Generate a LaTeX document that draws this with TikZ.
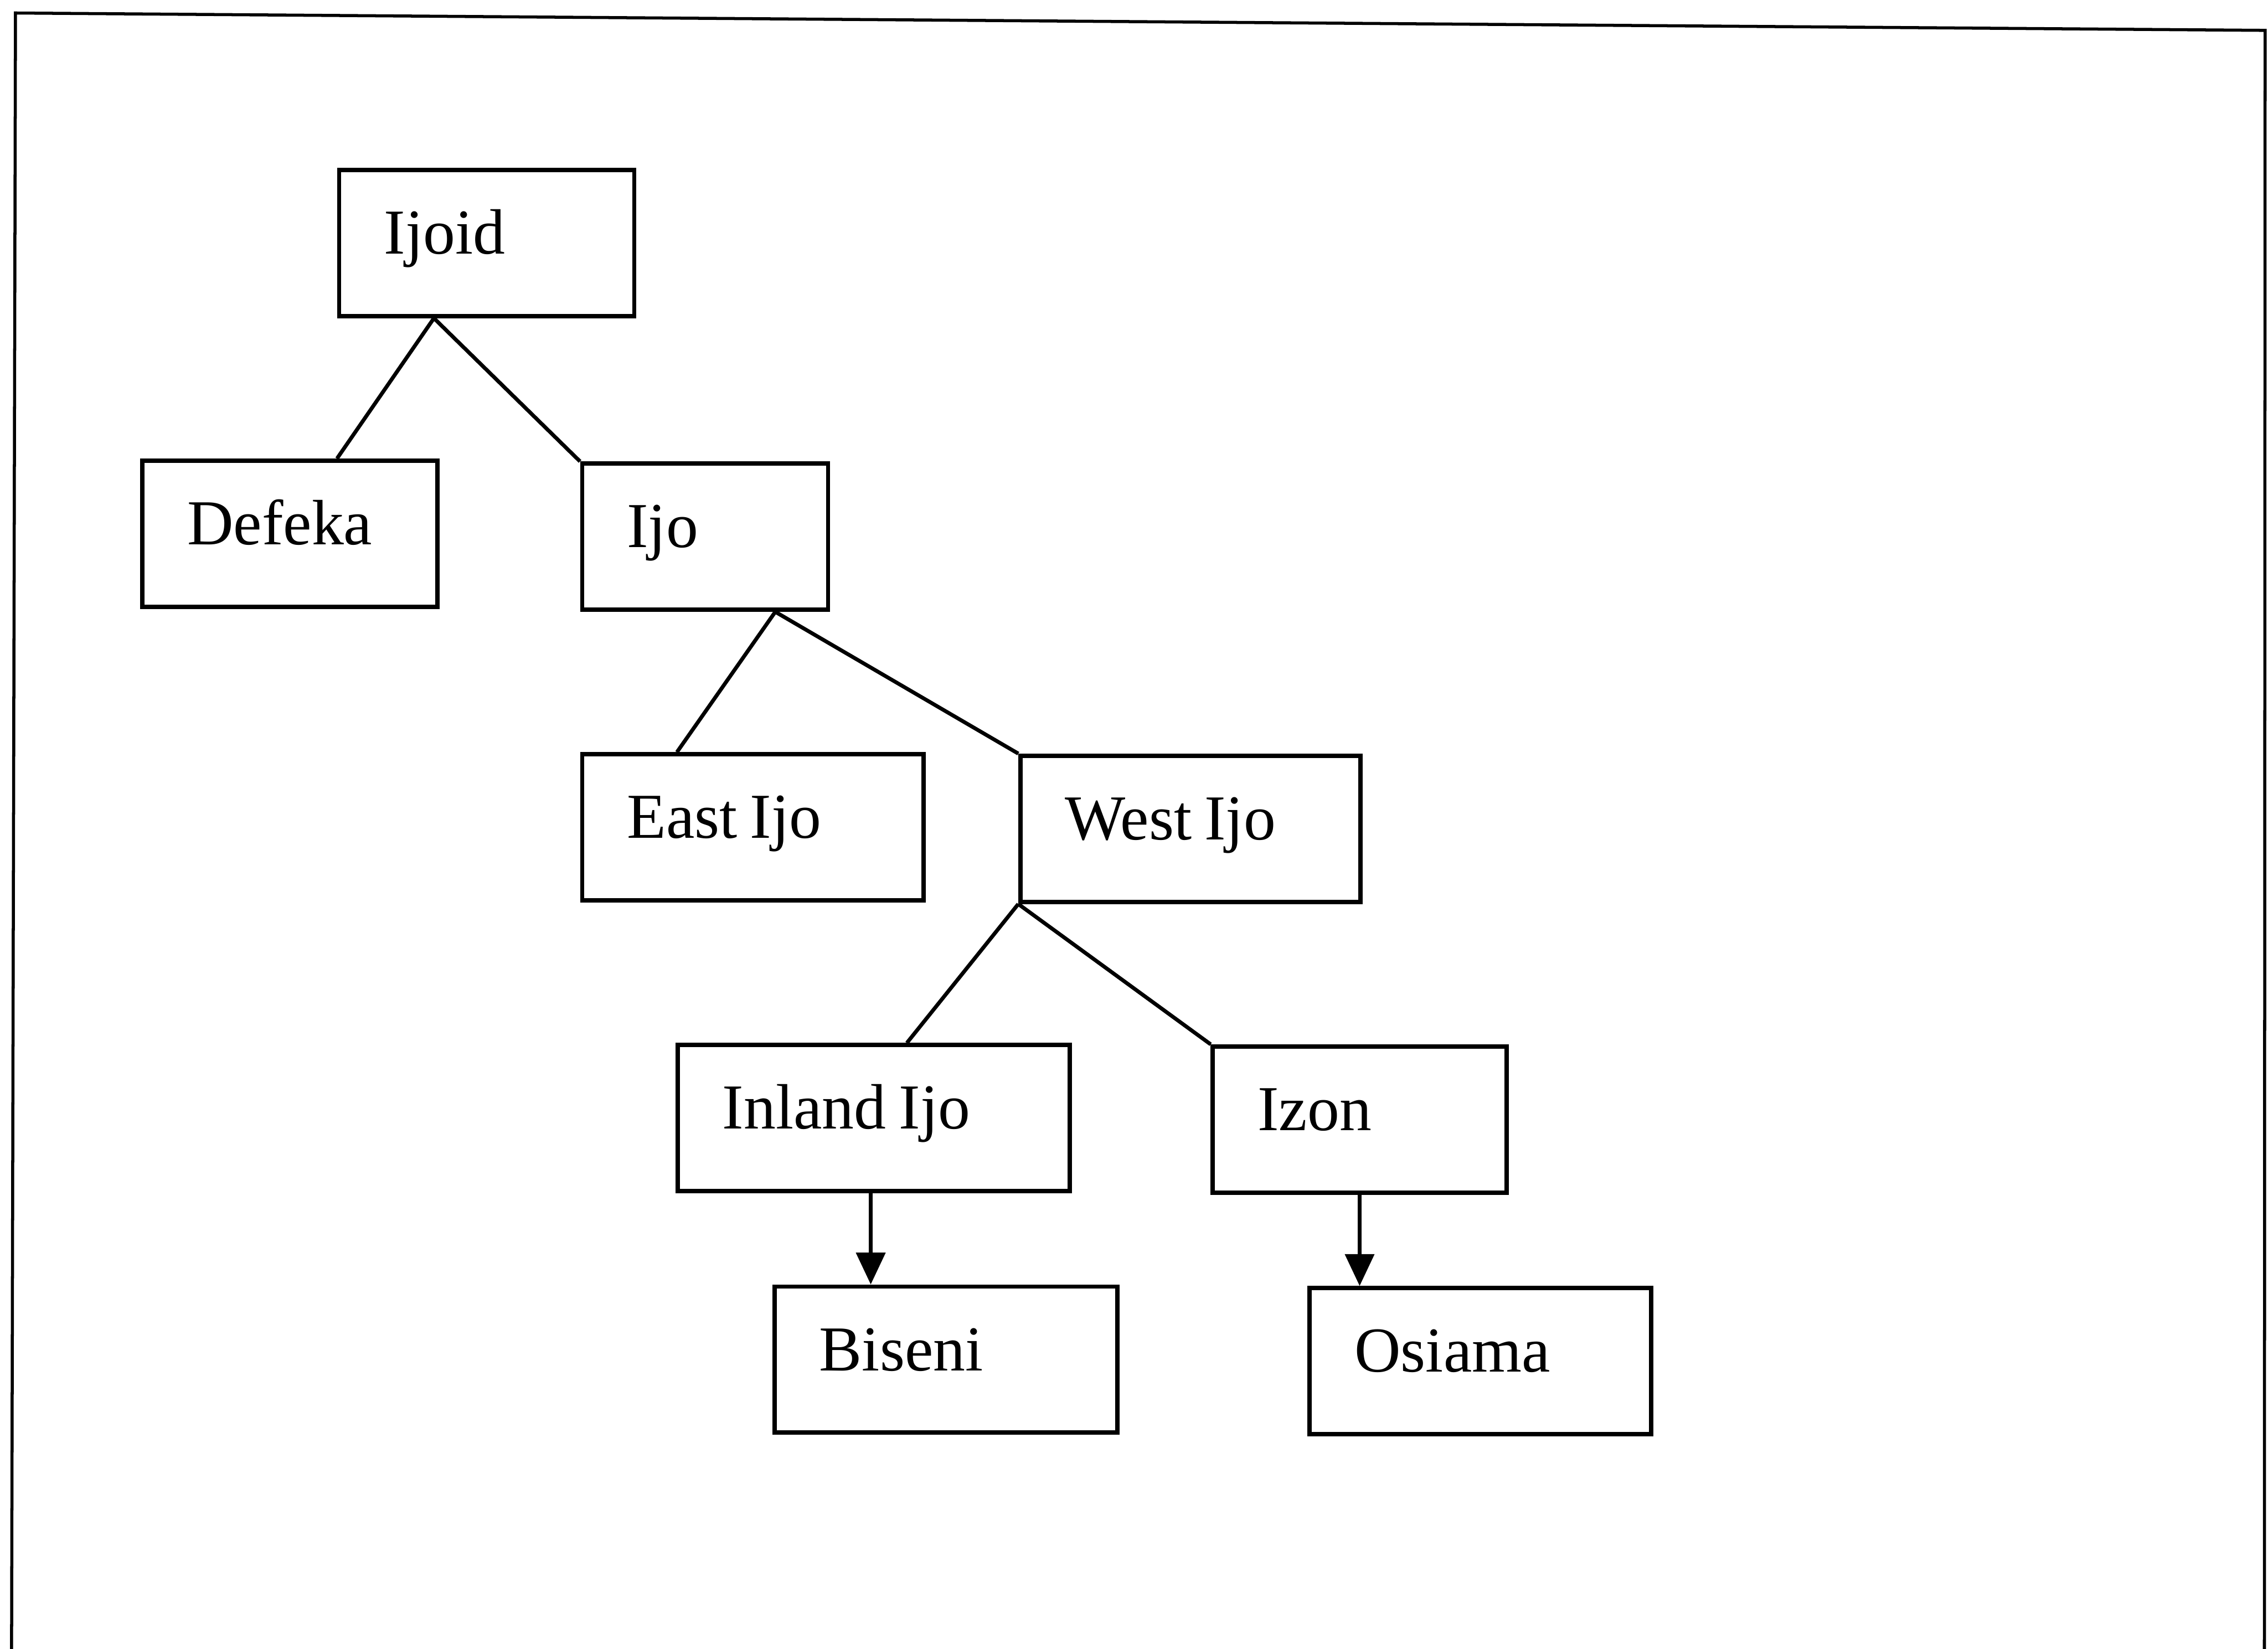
\documentclass[tikz,border=0pt]{standalone}
\usepackage{fontspec}
\setmainfont{Liberation Serif}
\usetikzlibrary{arrows.meta}
% box label font with slightly tighter word spacing
\newcommand{\langfont}{\fontsize{12.6}{15}\selectfont\spaceskip=0.2em\relax}
\begin{document}
\begin{tikzpicture}[x=0.1mm,y=-0.1mm,
  langbox/.style={draw, line width=0.85pt, anchor=north west,
    minimum height=10.1mm, inner xsep=3.1mm, inner ysep=0pt,
    text height=3mm, text depth=1.5mm, align=left,
    execute at begin node=\langfont},
  branch/.style={line width=0.75pt},
  descent/.style={line width=0.75pt, -{Triangle[length=2.2mm,width=2mm]}}]
  \useasboundingbox (0,0) rectangle (1568,1140);

  % outer frame (open at the bottom)
  \coordinate (fbl) at (8,1140);
  \coordinate (ftl) at (10.7,9);
  \coordinate (ftr) at (1566,21);
  \coordinate (fbr) at (1565.5,1140);
  \draw[line width=0.6pt] (fbl) -- (ftl) -- (ftr) -- (fbr);

  % language boxes
  \node[langbox, text width=14.2mm] (ijoid)  at (233,116) {Ijoid};
  \node[langbox, text width=14.2mm] (defeka) at (97,317)  {Defeka};
  \node[langbox, text width=10.8mm] (ijo)    at (401,319) {Ijo};
  \node[langbox, text width=17.4mm] (east)   at (401,520) {East Ijo};
  \node[langbox, text width=17.3mm] (west)   at (704,521) {West Ijo};
  \node[langbox, text width=20.9mm] (inland) at (467,721) {Inland Ijo};
  \node[langbox, text width=14.1mm] (izon)   at (837,722) {Izon};
  \node[langbox, text width=17.5mm] (biseni) at (534,888) {Biseni};
  \node[langbox, text width=17.4mm] (osiama) at (904,889) {Osiama};

  % branches
  \draw[branch] ([xshift=6.7mm]ijoid.south west) -- ([xshift=13.6mm]defeka.north west);
  \draw[branch] ([xshift=6.7mm]ijoid.south west) -- (ijo.north west);
  \draw[branch] ([xshift=13.5mm]ijo.south west) -- ([xshift=6.7mm]east.north west);
  \draw[branch] ([xshift=13.5mm]ijo.south west) -- (west.north west);
  \draw[branch] (west.south west) -- ([xshift=16mm]inland.north west);
  \draw[branch] (west.south west) -- (izon.north west);

  % single descendants
  \draw[descent] ([xshift=13.5mm]inland.south west) -- ([xshift=13.5mm]inland.south west |- biseni.north);
  \draw[descent] (izon.south) -- (izon.south |- osiama.north);
\end{tikzpicture}
\end{document}
